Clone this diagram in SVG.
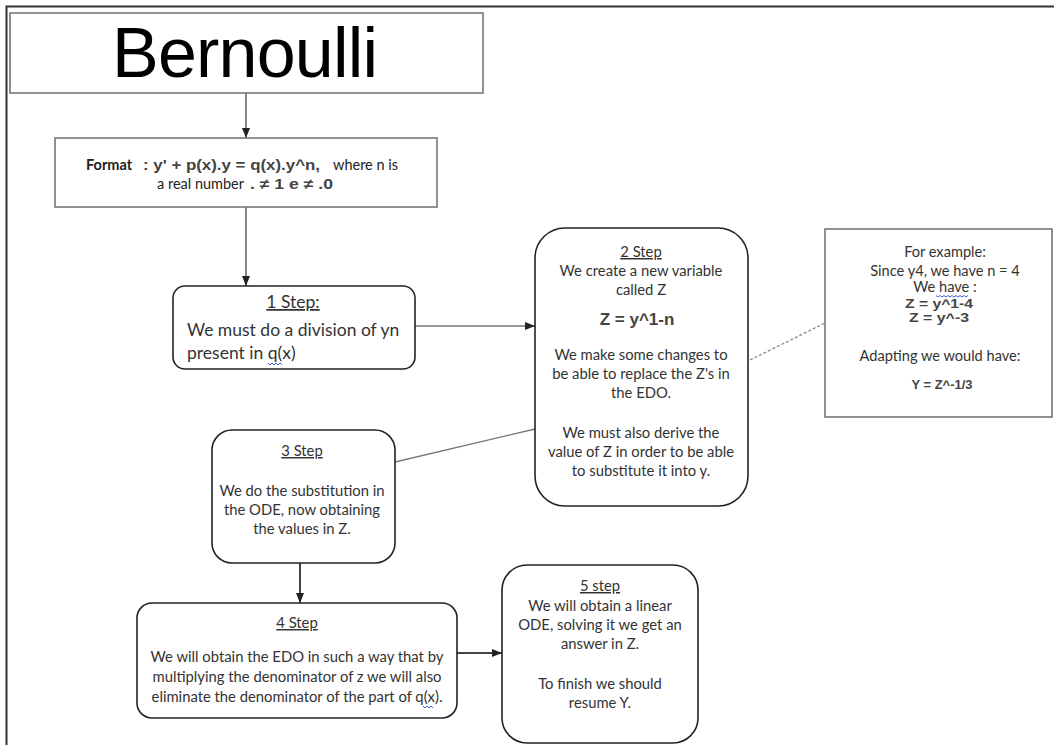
<svg xmlns="http://www.w3.org/2000/svg" width="1054" height="745" viewBox="0 0 1054 745">
<defs>
<style>
.frame{fill:none;stroke:#333;stroke-width:2}
.sq{fill:#fff;stroke:#777;stroke-width:1.6}
.rb{fill:#fff;stroke:#222;stroke-width:1.6}
.t{font-family:Lato,"Open Sans","Liberation Sans",sans-serif;fill:#333;text-anchor:middle}
.s14{font-size:14.8px}
.s16{font-size:17.5px}
.u{text-decoration:underline}
.m{font-family:"Liberation Sans",Arial,sans-serif;font-weight:bold;fill:#444}
.ln{fill:none;stroke:#333;stroke-width:1.2}
.th{fill:none;stroke:#444;stroke-width:2}
.gr{fill:none;stroke:#777;stroke-width:1.3}
.ds{fill:none;stroke:#888;stroke-width:1.3;stroke-dasharray:3,2}
.sqg{fill:none;stroke:#2a4fd6;stroke-width:0.9}
</style>
<marker id="ah" markerUnits="userSpaceOnUse" markerWidth="10" markerHeight="10" viewBox="0 0 10 10" refX="10" refY="5" orient="auto">
<path d="M0,1 L10,5 L0,9 Z" fill="#222"/>
</marker>
</defs>
<rect width="1054" height="745" fill="#fff"/>
<path class="frame" d="M6.5,745 V6.5 H1054"/>

<g id="connectors">
<line class="ln" x1="246" y1="93" x2="246" y2="138" marker-end="url(#ah)"/>
<line class="ln" x1="246" y1="207" x2="246" y2="286" marker-end="url(#ah)"/>
<line class="ln" x1="415" y1="326" x2="535" y2="326" marker-end="url(#ah)"/>
<line class="ds" x1="750" y1="360" x2="825" y2="323"/>
<line class="gr" x1="395" y1="462" x2="535" y2="429"/>
<line class="th" x1="300" y1="563" x2="300" y2="603" marker-end="url(#ah)"/>
<line class="th" x1="457" y1="653" x2="502" y2="653" marker-end="url(#ah)"/>
</g>

<g id="bernoulli">
<rect class="sq" x="10" y="13" width="473" height="80"/>
<text x="245" y="77" font-family="'Liberation Sans',Arial,sans-serif" font-size="70" fill="#000" text-anchor="middle" textLength="266">Bernoulli</text>
</g>

<g id="format">
<rect class="sq" x="55" y="138" width="382" height="69"/>
<text y="170" font-family="Lato,'Liberation Sans',sans-serif" font-size="14.5" fill="#222"><tspan x="86" font-weight="bold">Format</tspan><tspan x="143" class="m" font-size="14" textLength="177" lengthAdjust="spacingAndGlyphs">: y' + p(x).y = q(x).y^n,</tspan><tspan x="333">where n is</tspan></text>
<text y="189" font-family="Lato,'Liberation Sans',sans-serif" font-size="14.5" fill="#222"><tspan x="157">a real  number</tspan><tspan x="250" class="m" font-size="14" textLength="83" lengthAdjust="spacingAndGlyphs">. ≠ 1 e ≠ .0</tspan></text>
</g>

<g id="step1">
<rect class="rb" x="173" y="286" width="242" height="83" rx="12"/>
<text class="t s16 u" x="293" y="308">1 Step:</text>
<text class="t s16" x="187" y="336" style="text-anchor:start">We must do a division of yn</text>
<text class="t s16" x="187" y="359" style="text-anchor:start">present in q(x)</text>
<path class="sqg" d="M268,363 l2,2 l2,-2 l2,2 l2,-2 l2,2 l2,-2 l2,2"/>
</g>

<g id="step2">
<rect class="rb" x="535" y="228" width="213" height="278" rx="30"/>
<text class="t s14 u" x="641" y="257">2 Step</text>
<text class="t s14" x="641" y="276">We create a new variable</text>
<text class="t s14" x="641" y="295">called Z</text>
<text class="m" x="637" y="325" font-size="17" text-anchor="middle" fill="#555">Z = y^1-n</text>
<text class="t s14" x="641" y="360">We make some changes to</text>
<text class="t s14" x="641" y="379">be able to replace the Z's in</text>
<text class="t s14" x="641" y="398">the EDO.</text>
<text class="t s14" x="641" y="438">We must also derive the</text>
<text class="t s14" x="641" y="457">value of Z in order to be able</text>
<text class="t s14" x="641" y="476">to substitute it into y.</text>
</g>

<g id="example">
<rect class="sq" x="825" y="229" width="227" height="188"/>
<text class="t" font-size="14.6" x="945" y="257">For example:</text>
<text class="t" font-size="14.6" x="945" y="276">Since y4, we have n = 4</text>
<text class="t" font-size="14.6" x="945" y="292">We have :</text>
<path class="sqg" d="M936,295.5 l2,1.5 l2,-1.5 l2,1.5 l2,-1.5 l2,1.5 l2,-1.5 l2,1.5 l2,-1.5 l2,1.5 l2,-1.5 l2,1.5 l2,-1.5 l2,1.5 l2,-1.5 l2,1.5 l2,-1.5"/>
<text class="m" font-size="12.5" x="939" y="308" text-anchor="middle" fill="#555" textLength="68" lengthAdjust="spacingAndGlyphs">Z = y^1-4</text>
<text class="m" font-size="12.5" x="939" y="322" text-anchor="middle" fill="#555" textLength="60" lengthAdjust="spacingAndGlyphs">Z = y^-3</text>
<text class="t" font-size="14.6" x="940" y="361">Adapting we would have:</text>
<text class="m" font-size="13" x="942" y="389" text-anchor="middle" fill="#555" textLength="61" lengthAdjust="spacingAndGlyphs">Y = Z^-1/3</text>
</g>

<g id="step3">
<rect class="rb" x="212" y="430" width="183" height="133" rx="20"/>
<text class="t s14 u" x="302" y="456">3 Step</text>
<text class="t s14" x="302" y="496">We do the substitution in</text>
<text class="t s14" x="302" y="515">the ODE, now obtaining</text>
<text class="t s14" x="302" y="534">the values in Z.</text>
</g>

<g id="step4">
<rect class="rb" x="137" y="603" width="320" height="115" rx="15"/>
<text class="t s14 u" x="297" y="628">4 Step</text>
<text class="t s14" x="297" y="662">We will obtain the EDO in such a way that by</text>
<text class="t s14" x="297" y="682">multiplying the denominator of z we will also</text>
<text class="t s14" x="297" y="702">eliminate the denominator of the part of q(x).</text>
<path class="sqg" d="M423,706 l2,2 l2,-2 l2,2 l2,-2 l2,2"/>
</g>

<g id="step5">
<rect class="rb" x="502" y="565" width="196" height="178" rx="25"/>
<text class="t s14 u" x="600" y="591">5 step</text>
<text class="t s14" x="600" y="611">We will obtain a linear</text>
<text class="t s14" x="600" y="630">ODE, solving it we get an</text>
<text class="t s14" x="600" y="649">answer in Z.</text>
<text class="t s14" x="600" y="689">To finish we should</text>
<text class="t s14" x="600" y="708">resume Y.</text>
</g>
</svg>
